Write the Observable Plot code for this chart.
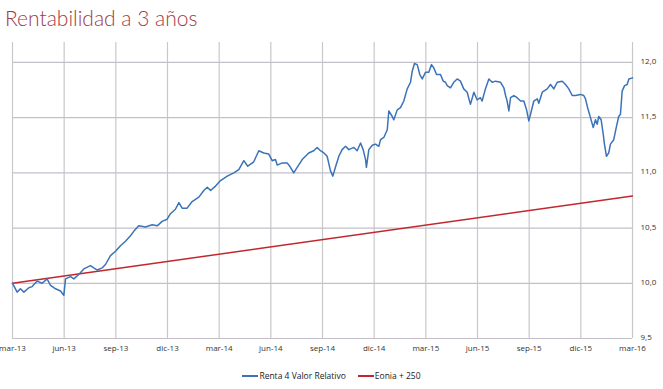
<!DOCTYPE html>
<html>
<head>
<meta charset="utf-8">
<script src="https://cdn.jsdelivr.net/npm/d3@7"></script>
<script src="https://cdn.jsdelivr.net/npm/@observablehq/plot@0.6"></script>
<style>
  html, body { margin: 0; padding: 0; background: #fff; }
  body { width: 663px; height: 389px; overflow: hidden; font-family: "Open Sans", sans-serif; }
  #title { height: 36px; box-sizing: border-box; padding: 5px 0 0 5px; font-family: "Lato", sans-serif; font-weight: 300; font-size: 21px; color: #9e3a44; line-height: 26px; }
  #chart { height: 322px; }
  #chart svg { display: block; }
  #legend { height: 31px; box-sizing: border-box; padding-top: 4px; display: flex; justify-content: center; font-size: 8.5px; color: #222; line-height: 12px; font-family: "Open Sans", sans-serif; }
  .item { display: flex; align-items: center; margin: 0 6px; }
  .sw { width: 16px; height: 0; border-top: 2px solid; margin-right: 1px; }
</style>
</head>
<body>
<div id="title">Rentabilidad a 3 años</div>
<div id="chart"></div>
<div id="legend"></div>
<script>
// Months since mar-13 (0..36)
const meses = [0,0.27,0.46,0.66,0.95,1.14,1.43,1.72,2.01,2.21,2.50,2.79,2.98,3.08,3.37,3.56,3.85,4.14,4.53,4.72,4.92,5.21,5.40,5.69,5.98,6.27,6.56,6.85,7.04,7.33,7.72,8.11,8.40,8.69,8.98,9.17,9.46,9.66,9.85,10.14,10.43,10.82,11.11,11.31,11.50,11.79,12.08,12.47,12.85,13.14,13.43,13.66,14.01,14.30,14.59,14.88,15.08,15.27,15.37,15.66,15.95,16.14,16.33,16.53,16.82,17.20,17.49,17.69,17.88,18.08,18.27,18.46,18.60,18.75,18.95,19.14,19.34,19.53,19.82,20.01,20.21,20.36,20.50,20.55,20.69,20.89,21.08,21.27,21.37,21.56,21.76,21.85,22.05,22.14,22.34,22.53,22.72,22.92,23.11,23.21,23.34,23.50,23.65,23.79,23.98,24.17,24.33,24.46,24.62,24.85,25.01,25.14,25.24,25.43,25.62,25.82,26.01,26.20,26.40,26.59,26.79,26.98,27.17,27.27,27.46,27.66,27.85,28.05,28.34,28.53,28.63,28.72,28.82,28.92,29.11,29.30,29.50,29.69,29.85,29.98,30.08,30.27,30.47,30.56,30.76,31.05,31.24,31.43,31.63,31.92,32.11,32.30,32.50,32.69,32.98,33.17,33.27,33.41,33.56,33.72,33.85,33.95,34.04,34.18,34.30,34.37,34.49,34.62,34.72,34.91,35.07,35.20,35.30,35.40,35.54,35.69,35.79,36.00];
const renta4 = [10.00,9.92,9.95,9.92,9.96,9.97,10.02,10.00,10.04,9.98,9.95,9.93,9.89,10.04,10.06,10.04,10.08,10.13,10.16,10.14,10.12,10.14,10.17,10.25,10.29,10.34,10.38,10.43,10.47,10.52,10.51,10.53,10.52,10.56,10.58,10.63,10.67,10.73,10.68,10.68,10.74,10.78,10.84,10.87,10.84,10.88,10.93,10.97,11.00,11.03,11.11,11.06,11.10,11.20,11.18,11.17,11.11,11.12,11.07,11.09,11.09,11.05,11.00,11.05,11.12,11.18,11.20,11.23,11.20,11.18,11.15,11.02,10.97,11.05,11.15,11.21,11.24,11.21,11.23,11.20,11.27,11.21,11.12,11.05,11.21,11.25,11.26,11.24,11.30,11.32,11.39,11.56,11.51,11.48,11.57,11.59,11.65,11.76,11.82,11.92,11.99,11.98,11.89,11.85,11.91,11.91,11.98,11.95,11.89,11.89,11.83,11.82,11.79,11.77,11.82,11.85,11.83,11.76,11.73,11.62,11.73,11.66,11.68,11.65,11.76,11.85,11.82,11.83,11.82,11.77,11.70,11.65,11.56,11.68,11.70,11.68,11.65,11.65,11.57,11.47,11.53,11.65,11.67,11.63,11.73,11.76,11.80,11.76,11.82,11.83,11.80,11.76,11.70,11.70,11.71,11.70,11.67,11.58,11.50,11.41,11.48,11.44,11.51,11.48,11.35,11.26,11.15,11.18,11.26,11.30,11.42,11.51,11.53,11.74,11.79,11.80,11.85,11.86];
const eoniaMeses = [0, 36];
const eonia = [10.00, 10.79];
const xTickPos = [0,3,6,9,12,15,18,21,24,27,30,33,36];
const xTickLabels = ["mar-13","jun-13","sep-13","dic-13","mar-14","jun-14","sep-14","dic-14","mar-15","jun-15","sep-15","dic-15","mar-16"];
const yTicks = [9.5,10,10.5,11,11.5,12];
const seriesNames = ["Renta 4 Valor Relativo","Eonia + 250"];
const seriesColors = ["#3b73b9","#c1272d"];

const r4 = meses.map((m,i) => ({m, v: renta4[i]}));
const eo = eoniaMeses.map((m,i) => ({m, v: eonia[i]}));

const chart = Plot.plot({
  width: 663,
  height: 322,
  marginLeft: 12,
  marginRight: 31,
  marginTop: 6,
  marginBottom: 20,
  style: {fontFamily: "Open Sans, sans-serif", fontSize: "8px", color: "#333", background: "#fff"},
  x: {type: "linear", domain: [0,36]},
  y: {domain: [9.5, 12.18]},
  marks: [
    Plot.ruleX(xTickPos, {stroke: "#c8c8c8", strokeWidth: 1.2}),
    Plot.ruleY(yTicks, {stroke: "#c4bfc8", strokeWidth: 1.2}),
    Plot.line(eo, {x: "m", y: "v", stroke: seriesColors[1], strokeWidth: 1.5}),
    Plot.line(r4, {x: "m", y: "v", stroke: seriesColors[0], strokeWidth: 1.5}),
    Plot.axisX(xTickPos, {tickSize: 0, tickPadding: 7, tickFormat: (d) => xTickLabels[xTickPos.indexOf(d)], label: null, fill: "#333"}),
    Plot.axisY(yTicks, {anchor: "right", tickSize: 0, tickPadding: 8, dy: -1, tickFormat: d => d.toFixed(1).replace(".", ","), label: null, fill: "#333"})
  ]
});
document.getElementById("chart").appendChild(chart);

const leg = document.getElementById("legend");
seriesNames.forEach((n,i) => {
  const it = document.createElement("div");
  it.className = "item";
  const sw = document.createElement("span");
  sw.className = "sw";
  sw.style.borderColor = seriesColors[i];
  it.appendChild(sw);
  it.appendChild(document.createTextNode(n));
  leg.appendChild(it);
});
</script>
</body>
</html>
